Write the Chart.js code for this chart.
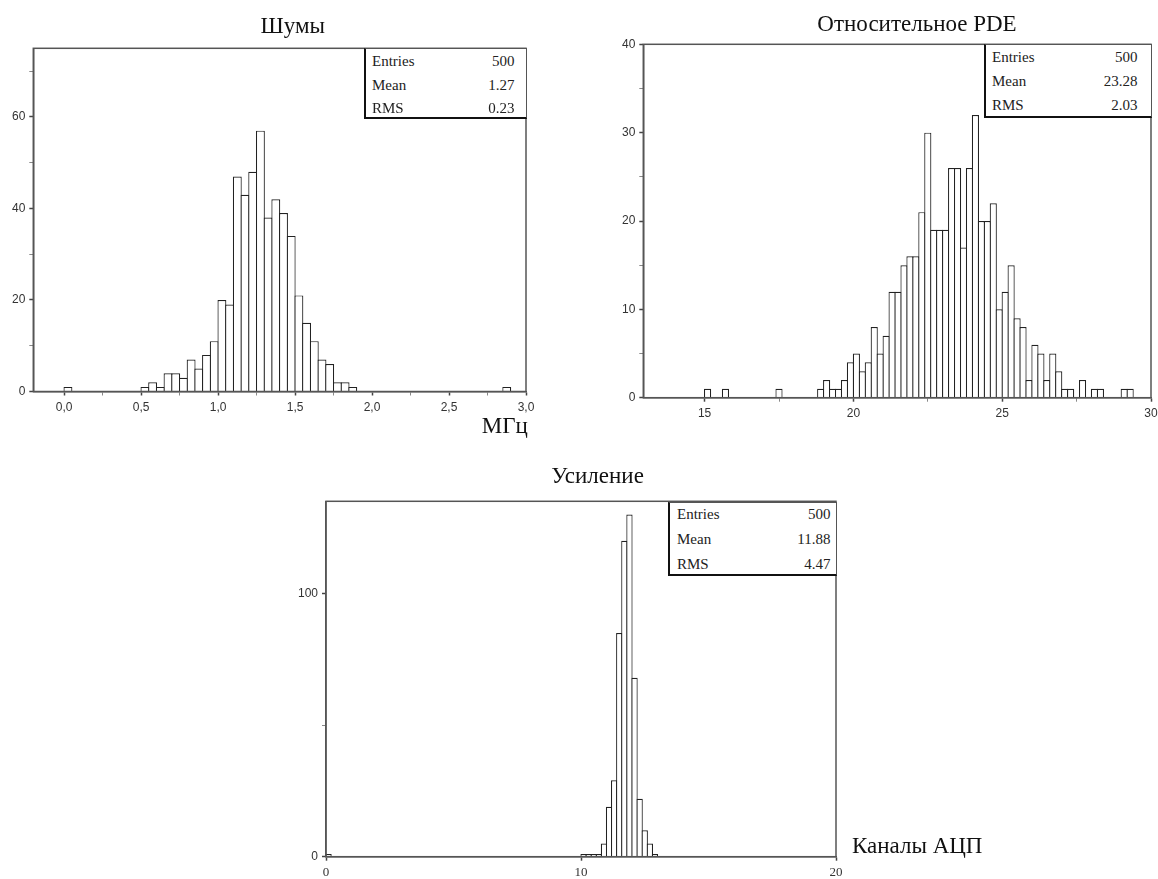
<!DOCTYPE html>
<html><head><meta charset="utf-8">
<script src="https://cdn.jsdelivr.net/npm/chart.js@4.4.1/dist/chart.umd.min.js"></script>
<style>
html,body{margin:0;padding:0;background:#fff;overflow:hidden;width:1158px;height:879px;position:relative;}
canvas{position:absolute;}
.t{position:absolute;font-family:"Liberation Serif","Times New Roman",serif;color:#111;white-space:nowrap;line-height:23px;font-size:23px;}
.stats{position:absolute;background:#fff;border-top:1px solid #555;border-right:1px solid #555;border-left:2px solid #111;border-bottom:2px solid #111;box-sizing:border-box;font-family:"Liberation Serif","Times New Roman",serif;font-size:15px;color:#222;}
.row{position:absolute;left:0;right:0;height:23px;line-height:23px;}
.row span{position:absolute;}
</style></head><body>
<canvas id="c1" width="560" height="450" style="left:0px;top:0px"></canvas>
<canvas id="c2" width="580" height="450" style="left:590px;top:0px"></canvas>
<canvas id="c3" width="580" height="439" style="left:280px;top:440px"></canvas>
<div id="overlay"></div>
<script>
// ---------- DATA ----------
// Шумы (MHz), bin width 0.05 — lower bin edges and counts
const noiseEdges  = [0.00, 0.50, 0.55, 0.60, 0.65, 0.70, 0.75, 0.80, 0.85, 0.90, 0.95, 1.00, 1.05, 1.10, 1.15, 1.20, 1.25, 1.30, 1.35, 1.40, 1.45, 1.50, 1.55, 1.60, 1.65, 1.70, 1.75, 1.80, 1.85, 2.85];
const noiseCounts = [1,    1,    2,    1,    4,    4,    3,    7,    5,    8,    11,   20,   19,   47,   43,   48,   57,   38,   42,   39,   34,   21,   15,   11,   7,    6,    2,    2,    1,    1];
const noiseBin = 0.05;
const noiseXMajor = [0, 0.5, 1.0, 1.5, 2.0, 2.5, 3.0];
const noiseXLabels = ['0,0', '0,5', '1,0', '1,5', '2,0', '2,5', '3,0'];
const noiseXMinor = [0.25, 0.75, 1.25, 1.75, 2.25, 2.75];
const noiseYMajor = [0, 20, 40, 60];
const noiseYLabels = ['0', '20', '40', '60'];
const noiseYMinor = [10, 30, 50, 70];

// Относительное PDE, bin width 0.2
const pdeEdges  = [15.0, 15.6, 17.4, 18.8, 19.0, 19.2, 19.4, 19.6, 19.8,
  20.0, 20.2, 20.4, 20.6, 20.8, 21.0, 21.2, 21.4, 21.6, 21.8, 22.0, 22.2, 22.4, 22.6, 22.8,
  23.0, 23.2, 23.4, 23.6, 23.8, 24.0, 24.2, 24.4, 24.6, 24.8,
  25.0, 25.2, 25.4, 25.6, 25.8, 26.0, 26.2, 26.4, 26.6, 26.8, 27.0, 27.2, 27.6, 28.0, 28.2, 29.0, 29.2];
const pdeCounts = [1, 1, 1, 1, 2, 1, 1, 2, 4,
  5, 3, 4, 8, 5, 7, 12, 12, 15, 16, 16, 21, 30, 19, 19,
  19, 26, 26, 17, 26, 32, 20, 20, 22, 10,
  12, 15, 9, 8, 2, 6, 5, 2, 5, 3, 1, 1, 2, 1, 1, 1, 1];
const pdeBin = 0.2;
const pdeXMajor = [15, 20, 25, 30];
const pdeXLabels = ['15', '20', '25', '30'];
const pdeXMinor = [17.5, 22.5, 27.5];
const pdeYMajor = [0, 10, 20, 30, 40];
const pdeYLabels = ['0', '10', '20', '30', '40'];
const pdeYMinor = [5, 15, 25, 35];

// Усиление (ADC channels), bin width 0.2
const gainEdges  = [0.0, 10.0, 10.2, 10.4, 10.6, 10.8, 11.0, 11.2, 11.4, 11.6, 11.8, 12.0, 12.2, 12.4, 12.6, 12.8];
const gainCounts = [1,   1,    1,    1,    1,    5,    19,   29,   85,   120,  130,  68,   22,   10,   5,    1];
const gainBin = 0.2;
const gainXMajor = [0, 10, 20];
const gainXLabels = ['0', '10', '20'];
const gainXMinor = [];
const gainYMajor = [0, 100];
const gainYLabels = ['0', '100'];
const gainYMinor = [50];

// Stats boxes
const statsKeys = ['Entries', 'Mean', 'RMS'];
const noiseStats = ['500', '1.27', '0.23'];
const pdeStats = ['500', '23.28', '2.03'];
const gainStats = ['500', '11.88', '4.47'];

// Titles
const titles = ['Шумы', 'Относительное PDE', 'Усиление'];
const axisTitles = ['МГц', 'Каналы АЦП'];

// ---------- RENDERING ----------
const SANS = '"Liberation Sans", Arial, sans-serif';
const SERIF = '"Liberation Serif", "Times New Roman", serif';
const BW = 1.2;

const framePlugin = {
  id: 'frame',
  afterDraw(chart) {
    const a = chart.chartArea, ctx = chart.ctx;
    ctx.save();
    ctx.strokeStyle = '#555';
    ctx.lineWidth = 1.5;
    ctx.strokeRect(a.left, a.top, a.right - a.left, a.bottom - a.top);
    ctx.restore();
  }
};

function near(a, b) { return Math.abs(a - b) < 1e-9; }

function axisOpts(pos, min, max, majors, labels, minors, fontFam, fontSize, pad, fitSize) {
  const all = majors.concat(minors).sort((a, b) => a - b);
  const isMajor = v => majors.some(m => near(m, v));
  return {
    type: 'linear', position: pos, min, max, bounds: 'data', offset: false,
    afterBuildTicks: s => { s.ticks = all.map(v => ({ value: v })); },
    afterFit: s => { if (pos === 'bottom') s.height = fitSize; else s.width = fitSize; },
    ticks: {
      autoSkip: false, maxRotation: 0, minRotation: 0, padding: pad, color: '#333',
      font: { family: fontFam, size: fontSize },
      callback: v => { const i = majors.findIndex(m => near(m, v)); return i >= 0 ? labels[i] : ''; }
    },
    grid: {
      offset: false,
      drawOnChartArea: false, drawTicks: true, tickLength: 4,
      color: ctx => (ctx.tick && isMajor(ctx.tick.value)) ? '#444' : '#888',
      tickWidth: ctx => (ctx.tick && isMajor(ctx.tick.value)) ? 1.5 : 1
    },
    border: { display: true, color: '#555', width: 1.5 }
  };
}

function histChart(id, cfg) {
  const plotW = cfg.R - cfg.L;
  const thickness = cfg.bin * plotW / (cfg.xmax - cfg.xmin) + BW;
  const data = cfg.edges.map((e, i) => ({ x: e + cfg.bin / 2, y: cfg.counts[i] }));
  return new Chart(document.getElementById(id), {
    type: 'bar',
    data: { datasets: [{
      data, backgroundColor: '#fff', borderColor: '#222', borderWidth: BW,
      barThickness: thickness, grouped: false, inflateAmount: 0, borderSkipped: 'start'
    }] },
    options: {
      responsive: false, animation: false, devicePixelRatio: 1,
      layout: { padding: { left: 0, top: cfg.T, right: cfg.W - cfg.R, bottom: cfg.H - cfg.B - cfg.xh } },
      plugins: { legend: { display: false }, tooltip: { enabled: false }, title: { display: false } },
      scales: {
        x: axisOpts('bottom', cfg.xmin, cfg.xmax, cfg.xMaj, cfg.xLab, cfg.xMin, cfg.xFont, cfg.xFontSize, cfg.xPad, cfg.xh),
        y: axisOpts('left', 0, cfg.ymax, cfg.yMaj, cfg.yLab, cfg.yMin, SANS, 12, 4, cfg.L)
      }
    },
    plugins: [framePlugin]
  });
}

histChart('c1', { W: 560, H: 450, L: 33.3, T: 48.3, R: 526, B: 391.5, xh: 30,
  xmin: -0.2, xmax: 3.0, ymax: 75, bin: noiseBin, edges: noiseEdges, counts: noiseCounts,
  xMaj: noiseXMajor, xLab: noiseXLabels, xMin: noiseXMinor, yMaj: noiseYMajor, yLab: noiseYLabels, yMin: noiseYMinor,
  xFont: SANS, xFontSize: 12, xPad: 5 });

histChart('c2', { W: 580, H: 450, L: 53.3, T: 44.3, R: 561, B: 397.7, xh: 30,
  xmin: 12.94, xmax: 30, ymax: 40, bin: pdeBin, edges: pdeEdges, counts: pdeCounts,
  xMaj: pdeXMajor, xLab: pdeXLabels, xMin: pdeXMinor, yMaj: pdeYMajor, yLab: pdeYLabels, yMin: pdeYMinor,
  xFont: SANS, xFontSize: 12, xPad: 5 });

histChart('c3', { W: 580, H: 439, L: 46, T: 61.3, R: 556, B: 416.7, xh: 20,
  xmin: 0, xmax: 20, ymax: 135, bin: gainBin, edges: gainEdges, counts: gainCounts,
  xMaj: gainXMajor, xLab: gainXLabels, xMin: gainXMinor, yMaj: gainYMajor, yLab: gainYLabels, yMin: gainYMinor,
  xFont: SERIF, xFontSize: 13, xPad: 4 });

// ---------- TEXT OVERLAYS ----------
const ov = document.getElementById('overlay');
function addText(txt, x, top, center) {
  const d = document.createElement('div');
  d.className = 't';
  d.textContent = txt;
  d.style.top = top + 'px';
  d.style.left = x + 'px';
  if (center) d.style.transform = 'translateX(-50%)';
  ov.appendChild(d);
}
addText(titles[0], 292.7, 14.1, true);
addText(titles[1], 917, 11.5, true);
addText(titles[2], 597.6, 464.1, true);
addText(axisTitles[0], 481.7, 414, false);
addText(axisTitles[1], 852, 834, false);

function addStats(vals, box) {
  const d = document.createElement('div');
  d.className = 'stats';
  d.style.left = box.left + 'px';
  d.style.top = box.top + 'px';
  d.style.width = box.w + 'px';
  d.style.height = box.h + 'px';
  statsKeys.forEach((k, i) => {
    const r = document.createElement('div');
    r.className = 'row';
    r.style.top = box.rows[i] + 'px';
    const a = document.createElement('span'); a.textContent = k; a.style.left = box.padL + 'px';
    const b = document.createElement('span'); b.textContent = vals[i]; b.style.right = box.padR + 'px';
    r.appendChild(a); r.appendChild(b); d.appendChild(r);
  });
  ov.appendChild(d);
}
addStats(noiseStats, { left: 364, top: 48, w: 162.5, h: 70.5, rows: [1, 24.5, 47.5], padL: 6, padR: 11 });
addStats(pdeStats, { left: 984, top: 44, w: 167.5, h: 73.5, rows: [1, 25, 49], padL: 6, padR: 13 });
addStats(gainStats, { left: 668, top: 501.5, w: 168.5, h: 74, rows: [0.5, 25, 50], padL: 7, padR: 5 });
</script>
</body></html>
